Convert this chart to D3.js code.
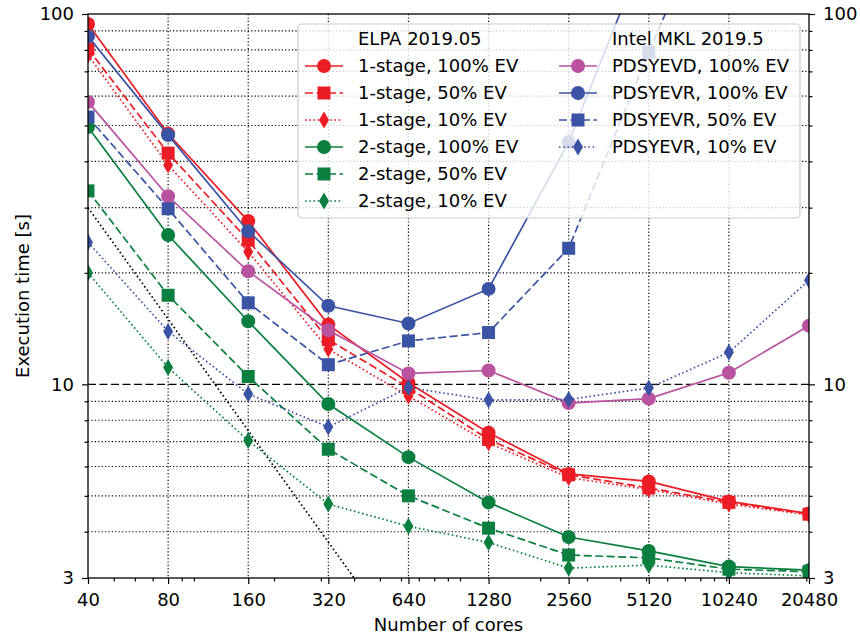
<!DOCTYPE html>
<html>
<head>
<meta charset="utf-8">
<script src="https://cdn.jsdelivr.net/npm/d3@7"></script>
<style>
  body { margin: 0; background: #fff; }
  svg { display: block; font-family: "DejaVu Sans", sans-serif; }
</style>
</head>
<body>
<svg id="chart" width="860" height="637"></svg>
<script>
// cores on x axis
var cores = [40, 80, 160, 320, 640, 1280, 2560, 5120, 10240, 20480];

// ELPA 2019.05 timings [s]
var elpa1_100 = [94, 47.5, 27.6, 14.5, 10.1, 7.4, 5.73, 5.47, 4.83, 4.48];
var elpa1_50 = [80.5, 42.1, 24.5, 13.2, 9.8, 7.1, 5.7, 5.25, 4.8, 4.46];
var elpa1_10 = [77.5, 39.1, 22.8, 12.45, 9.3, 6.95, 5.6, 5.2, 4.75, 4.44];
var elpa2_100 = [49.5, 25.3, 14.8, 8.85, 6.36, 4.8, 3.87, 3.55, 3.22, 3.15];
var elpa2_50 = [33.3, 17.4, 10.5, 6.68, 5.0, 4.09, 3.46, 3.4, 3.17, 3.12];
var elpa2_10 = [20.0, 11.1, 7.05, 4.75, 4.14, 3.74, 3.19, 3.25, 3.1, 3.04];

// Intel MKL 2019.5 timings [s]
var pdsyevd_100 = [57.9, 32.2, 20.2, 14.0, 10.7, 10.9, 8.9, 9.15, 10.75, 14.4];
var pdsyevr_100 = [87, 47.1, 25.9, 16.3, 14.6, 18.1, 45.1, 157, 300, 500];
var pdsyevr_50 = [52.7, 29.8, 16.6, 11.3, 13.1, 13.8, 23.3, 78.9, 250, 500];
var pdsyevr_10 = [24.2, 13.9, 9.42, 7.67, 9.8, 9.07, 9.1, 9.78, 12.2, 19.1];

// ideal scaling reference line (two end points)
var idealCores = [40, 640];
var idealTime = [30, 1.875];

var yLabelTicks = [3, 10, 100];
var yMinorTicks = [4, 5, 6, 7, 8, 9, 20, 30, 40, 50, 60, 70, 80, 90];
var xMinorTicks = [50, 60, 70, 90, 100, 200, 300, 400, 500, 600, 700, 800, 900,
  1000, 2000, 3000, 4000, 5000, 6000, 7000, 8000, 9000, 10000, 20000];

var RED = "#ec1c24", GREEN = "#0a7f3f", BLUE = "#3a53a4", MAGENTA = "#b9529f";
var DASH = "8,3.5", DOT = "1.6,2.6";
var LW = 1.7;

var series = [
  { name: "1-stage, 100% EV", values: elpa1_100, color: RED, dash: null, marker: "circle", col: 0, row: 1 },
  { name: "1-stage, 50% EV", values: elpa1_50, color: RED, dash: DASH, marker: "square", col: 0, row: 2 },
  { name: "1-stage, 10% EV", values: elpa1_10, color: RED, dash: DOT, marker: "diamond", col: 0, row: 3 },
  { name: "2-stage, 100% EV", values: elpa2_100, color: GREEN, dash: null, marker: "circle", col: 0, row: 4 },
  { name: "2-stage, 50% EV", values: elpa2_50, color: GREEN, dash: DASH, marker: "square", col: 0, row: 5 },
  { name: "2-stage, 10% EV", values: elpa2_10, color: GREEN, dash: DOT, marker: "diamond", col: 0, row: 6 },
  { name: "PDSYEVD, 100% EV", values: pdsyevd_100, color: MAGENTA, dash: null, marker: "circle", col: 1, row: 1 },
  { name: "PDSYEVR, 100% EV", values: pdsyevr_100, color: BLUE, dash: null, marker: "circle", col: 1, row: 2 },
  { name: "PDSYEVR, 50% EV", values: pdsyevr_50, color: BLUE, dash: DASH, marker: "square", col: 1, row: 3 },
  { name: "PDSYEVR, 10% EV", values: pdsyevr_10, color: BLUE, dash: DOT, marker: "diamond", col: 1, row: 4 }
];

// plot area (note: "top" is reserved on window, so use pl/pr/pt/pb)
var pl = 88, pr = 809, pt = 14, pb = 578;
var svg = d3.select("#chart");

var x = d3.scaleLog().base(2).domain([40, 20480]).range([pl, pr]);
var y = d3.scaleLog().domain([3, 100]).range([pb, pt]);

svg.append("clipPath").attr("id", "plotclip")
  .append("rect").attr("x", pl).attr("y", pt)
  .attr("width", pr - pl).attr("height", pb - pt);

// grid
var grid = svg.append("g");
grid.selectAll("line.vg").data(cores.slice(1, -1)).join("line")
  .attr("x1", d => x(d)).attr("x2", d => x(d))
  .attr("y1", pt).attr("y2", pb)
  .attr("stroke", "#000").attr("stroke-width", 1.2).attr("stroke-dasharray", "1.2,2.2");
grid.selectAll("line.hg").data(yMinorTicks).join("line")
  .attr("x1", pl).attr("x2", pr)
  .attr("y1", d => y(d)).attr("y2", d => y(d))
  .attr("stroke", "#000").attr("stroke-width", 1.2).attr("stroke-dasharray", "1.2,2.2");
grid.append("line")
  .attr("x1", pl).attr("x2", pr).attr("y1", y(10)).attr("y2", y(10))
  .attr("stroke", "#000").attr("stroke-width", 1.3).attr("stroke-dasharray", "8,3.5");

var plot = svg.append("g").attr("clip-path", "url(#plotclip)");

// ideal scaling
plot.append("path")
  .datum(d3.zip(idealCores, idealTime))
  .attr("d", d3.line().x(d => x(d[0])).y(d => y(d[1])))
  .attr("fill", "none").attr("stroke", "#000").attr("stroke-width", LW)
  .attr("stroke-dasharray", DOT);

function markerPath(type, cx, cy) {
  if (type == "circle") {
    var p = d3.path();
    p.moveTo(cx + 7, cy);
    p.arc(cx, cy, 7, 0, 2 * Math.PI);
    return p.toString();
  } else if (type == "square") {
    return "M" + (cx - 6.5) + "," + (cy - 6.5) + "h13v13h-13Z";
  }
  return "M" + cx + "," + (cy - 8.5) + "L" + (cx + 5) + "," + cy +
    "L" + cx + "," + (cy + 8.5) + "L" + (cx - 5) + "," + cy + "Z";
}

var line = d3.line().x(d => x(d[0])).y(d => y(d[1]));

series.forEach(function (s) {
  var pts = d3.zip(cores, s.values);
  plot.append("path").datum(pts)
    .attr("d", line)
    .attr("fill", "none").attr("stroke", s.color).attr("stroke-width", LW)
    .attr("stroke-dasharray", s.dash);
  plot.selectAll(null).data(pts).join("path")
    .attr("d", d => markerPath(s.marker, x(d[0]), y(d[1])))
    .attr("fill", s.color);
});

// axes
var fontSize = "18px";
function styleAxis(g) {
  g.selectAll("text").attr("font-size", fontSize).attr("font-family", "DejaVu Sans").attr("fill", "#000");
  g.selectAll("line").attr("stroke", "#000").attr("stroke-width", 1.2);
  g.select(".domain").remove();
}

svg.append("g").attr("transform", "translate(0," + pb + ")")
  .call(d3.axisBottom(x).tickValues(cores).tickFormat(d3.format("d")).tickSize(6).tickPadding(9))
  .call(styleAxis);
svg.append("g").attr("transform", "translate(0," + pb + ")")
  .call(d3.axisBottom(x).tickValues(xMinorTicks).tickFormat("").tickSize(3.5))
  .call(styleAxis);

svg.append("g").attr("transform", "translate(" + pl + ",0)")
  .call(d3.axisLeft(y).tickValues(yLabelTicks).tickFormat(d3.format("d")).tickSize(6).tickPadding(8))
  .call(styleAxis);
svg.append("g").attr("transform", "translate(" + pl + ",0)")
  .call(d3.axisLeft(y).tickValues(yMinorTicks).tickFormat("").tickSize(3.5))
  .call(styleAxis);
svg.append("g").attr("transform", "translate(" + pr + ",0)")
  .call(d3.axisRight(y).tickValues(yLabelTicks).tickFormat(d3.format("d")).tickSize(6).tickPadding(8))
  .call(styleAxis);
svg.append("g").attr("transform", "translate(" + pr + ",0)")
  .call(d3.axisRight(y).tickValues(yMinorTicks).tickFormat("").tickSize(3.5))
  .call(styleAxis);

// frame
svg.append("rect").attr("x", pl).attr("y", pt)
  .attr("width", pr - pl).attr("height", pb - pt)
  .attr("fill", "none").attr("stroke", "#000").attr("stroke-width", 1.3);

svg.append("text").attr("x", (pl + pr) / 2).attr("y", 631)
  .attr("text-anchor", "middle").attr("font-size", fontSize)
  .text("Number of cores");
svg.append("text").attr("transform", "translate(29," + ((pt + pb) / 2) + ") rotate(-90)")
  .attr("text-anchor", "middle").attr("font-size", fontSize)
  .text("Execution time [s]");

// legend
var legend = svg.append("g");
legend.append("rect").attr("x", 298).attr("y", 24).attr("width", 502).attr("height", 194)
  .attr("rx", 4).attr("fill", "#fff").attr("fill-opacity", 0.8)
  .attr("stroke", "#cccccc").attr("stroke-width", 1.2);

var colX = [305, 559];
var textX = [358, 612];
var rowY = function (r) { return 39 + 27 * r; };
legend.append("text").attr("x", textX[0]).attr("y", rowY(0)).attr("dy", "0.36em")
  .attr("font-size", fontSize).text("ELPA 2019.05");
legend.append("text").attr("x", textX[1]).attr("y", rowY(0)).attr("dy", "0.36em")
  .attr("font-size", fontSize).text("Intel MKL 2019.5");

series.forEach(function (s) {
  var ly = rowY(s.row);
  var lx = colX[s.col];
  legend.append("line").attr("x1", lx).attr("x2", lx + 38).attr("y1", ly).attr("y2", ly)
    .attr("stroke", s.color).attr("stroke-width", LW).attr("stroke-dasharray", s.dash);
  legend.append("path").attr("d", markerPath(s.marker, lx + 19, ly)).attr("fill", s.color);
  legend.append("text").attr("x", textX[s.col]).attr("y", ly).attr("dy", "0.36em")
    .attr("font-size", fontSize).text(s.name);
});
</script>
</body>
</html>
